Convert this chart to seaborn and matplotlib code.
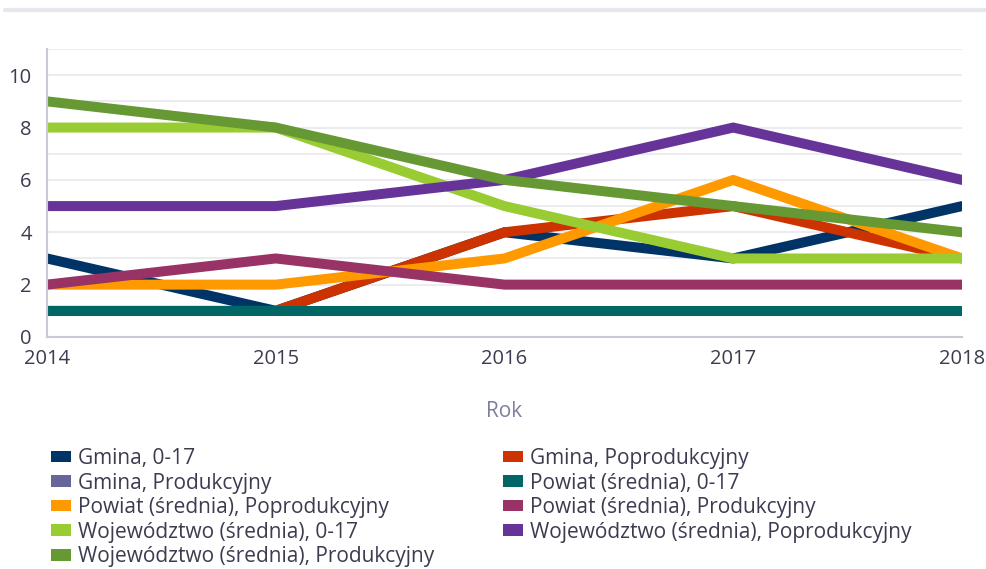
import pandas as pd
import numpy as np
import matplotlib
matplotlib.use("Agg")
import matplotlib.pyplot as plt
import seaborn as sns
from matplotlib.patches import Patch
from matplotlib.lines import Line2D

# data
years = [2014, 2015, 2016, 2017, 2018]
series_names = [
    "Gmina, 0-17",
    "Gmina, Poprodukcyjny",
    "Gmina, Produkcyjny",
    "Powiat (średnia), 0-17",
    "Powiat (średnia), Poprodukcyjny",
    "Powiat (średnia), Produkcyjny",
    "Województwo (średnia), 0-17",
    "Województwo (średnia), Poprodukcyjny",
    "Województwo (średnia), Produkcyjny",
]
gmina_017 = [3, 1, 4, 3, 5]
gmina_poprod = [1, 1, 4, 5, 3]
gmina_prod = [1, 1, 1, 1, 1]
powiat_017 = [1, 1, 1, 1, 1]
powiat_poprod = [2, 2, 3, 6, 3]
powiat_prod = [2, 3, 2, 2, 2]
woj_017 = [8, 8, 5, 3, 3]
woj_poprod = [5, 5, 6, 8, 6]
woj_prod = [9, 8, 6, 5, 4]

colors = ["#003366", "#cc3300", "#666699", "#006666", "#ff9900",
          "#993366", "#99cc33", "#663399", "#669933"]

values = [gmina_017, gmina_poprod, gmina_prod, powiat_017, powiat_poprod,
          powiat_prod, woj_017, woj_poprod, woj_prod]
rows = []
for name, vals in zip(series_names, values):
    for y, v in zip(years, vals):
        rows.append({"Rok": y, "value": v, "series": name})
df = pd.DataFrame(rows)

sns.set_style("white")
plt.rcParams['font.family'] = ['Open Sans', 'DejaVu Sans']

fig = plt.figure(figsize=(9.86, 5.69), dpi=100)
ax = fig.add_axes([47/986, 1 - 337/569, 915/986, 288/569])

sns.lineplot(data=df, x="Rok", y="value", hue="series", hue_order=series_names,
             palette=colors, linewidth=7.2, ax=ax, legend=False, sort=False)

ax.set_xlim(2014, 2018)
ax.set_ylim(0, 11)
ax.set_xticks(years)
ax.set_xticklabels([str(y) for y in years])
ax.set_yticks([0, 2, 4, 6, 8, 10])
ax.set_yticks(range(0, 12), minor=True)
ax.grid(True, which="both", axis="y", color="#ebebf0", linewidth=1.5)
ax.set_axisbelow(True)
for s in ["top", "right"]:
    ax.spines[s].set_visible(False)
for s in ["left", "bottom"]:
    ax.spines[s].set_color("#c8cad8")
    ax.spines[s].set_linewidth(1.5)
ax.tick_params(axis="both", which="both", length=0, labelsize=14.5, colors="#3c3c50")
ax.tick_params(axis="x", pad=9)
ax.tick_params(axis="y", pad=11)
ax.set_ylabel("")
ax.set_xlabel("Rok", fontsize=15, color="#7d7fa0", labelpad=23)

# separator line at top (title area cut off)
fig.add_artist(Line2D([5/986, 1], [1 - 10/569, 1 - 10/569], color="#e6e6ee",
                      linewidth=3, transform=fig.transFigure))

handles = [Patch(facecolor=c, edgecolor="none") for c in colors]
left_idx = [0, 2, 4, 6, 8]
right_idx = [1, 3, 5, 7]
leg_kw = dict(frameon=False, fontsize=15, handlelength=0.96, handleheight=0.48,
              handletextpad=0.36, labelspacing=0.17, borderaxespad=0, borderpad=0)
leg1 = fig.legend([handles[i] for i in left_idx], [series_names[i] for i in left_idx],
                  loc="upper left", bbox_to_anchor=(51/986, 1 - 448/569), **leg_kw)
leg2 = fig.legend([handles[i] for i in right_idx], [series_names[i] for i in right_idx],
                  loc="upper left", bbox_to_anchor=(503/986, 1 - 448/569), **leg_kw)
for leg in (leg1, leg2):
    for t in leg.get_texts():
        t.set_color("#3c3c50")

fig.savefig("out.png", dpi=100)
